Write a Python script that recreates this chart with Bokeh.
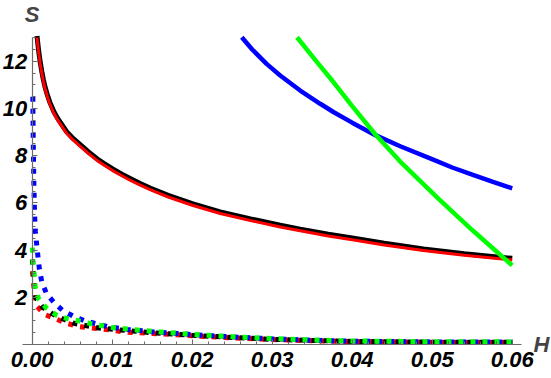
from bokeh.plotting import figure
from bokeh.models import LinearAxis, FixedTicker, Range1d, Label
from bokeh.embed import file_html
from bokeh.resources import INLINE

# ---- data ----
# solid curves
h_main = [0.0006, 0.0007, 0.0008, 0.0009, 0.001, 0.0012, 0.0014, 0.0016, 0.0019, 0.0022,
          0.0027, 0.0032, 0.0038, 0.0043, 0.005, 0.006, 0.007, 0.0081, 0.009, 0.01,
          0.0112, 0.0123, 0.0135, 0.0148, 0.017, 0.02, 0.0235, 0.0273, 0.031, 0.0335,
          0.037, 0.0398, 0.044, 0.0489, 0.054, 0.06]
s_red = [13.0, 12.7, 12.4, 12.15, 11.9, 11.5, 11.15, 10.85, 10.5, 10.2,
         9.8, 9.5, 9.2, 8.95, 8.7, 8.4, 8.1, 7.8, 7.6, 7.38,
         7.15, 6.95, 6.75, 6.55, 6.25, 5.9, 5.55, 5.25, 4.98, 4.82,
         4.6, 4.45, 4.22, 3.98, 3.78, 3.58]
s_black = [13.07, 12.77, 12.47, 12.22, 11.97, 11.57, 11.22, 10.92, 10.57, 10.27,
           9.87, 9.57, 9.27, 9.02, 8.77, 8.47, 8.17, 7.87, 7.67, 7.45,
           7.22, 7.02, 6.82, 6.62, 6.32, 5.97, 5.62, 5.32, 5.05, 4.89,
           4.67, 4.52, 4.29, 4.05, 3.85, 3.65]

h_blue = [0.0262, 0.0275, 0.0293, 0.031, 0.0335, 0.036, 0.0377, 0.040, 0.0429, 0.046,
          0.0502, 0.0525, 0.055, 0.0575, 0.06]
s_blue = [13.02, 12.5, 11.89, 11.4, 10.76, 10.2, 9.84, 9.4, 8.87, 8.4,
          7.82, 7.5, 7.2, 6.9, 6.62]

h_green = [0.0331, 0.0354, 0.0377, 0.040, 0.0429, 0.046, 0.0508, 0.055, 0.06]
s_green = [13.02, 12.05, 11.1, 10.1, 8.9, 7.75, 6.17, 4.85, 3.35]

# dotted curves
tail_h = [0.015, 0.02, 0.025, 0.03, 0.035, 0.04, 0.05, 0.06]

hd_blue = [0.00008, 0.00012, 0.0002, 0.0003, 0.0004, 0.0006, 0.0009, 0.0012, 0.0018,
           0.0027, 0.0038, 0.0052, 0.0067, 0.0094, 0.0119] + tail_h
sd_blue = [10.5, 9.0, 7.0, 5.5, 4.8, 4.1, 3.2, 2.65, 2.15,
           1.79, 1.44, 1.19, 0.99, 0.76, 0.64,
           0.54, 0.42, 0.32, 0.24, 0.18, 0.14, 0.11, 0.10]

hd_green = [0.00002, 0.0001, 0.0004, 0.0008, 0.00175, 0.0031, 0.0045, 0.006, 0.0075,
            0.0104, 0.0118] + tail_h
sd_green = [4.1, 3.56, 2.36, 1.94, 1.55, 1.23, 1.09, 0.99, 0.87,
            0.70, 0.66,
            0.56, 0.43, 0.33, 0.25, 0.19, 0.15, 0.12, 0.11]

hd_black = [0.00002, 0.0004, 0.0013, 0.0025, 0.0038, 0.0052, 0.0083, 0.0119] + tail_h
sd_black = [3.6, 2.0, 1.58, 1.30, 1.09, 0.90, 0.70, 0.59,
            0.50, 0.39, 0.30, 0.22, 0.17, 0.13, 0.10, 0.09]

hd_red = [0.00002, 0.0003, 0.0006, 0.0016, 0.0029, 0.0043, 0.0058, 0.0087, 0.0118] + tail_h
sd_red = [3.1, 2.15, 1.61, 1.27, 1.09, 0.90, 0.76, 0.66, 0.52,
          0.47, 0.37, 0.28, 0.21, 0.16, 0.12, 0.09, 0.08]

x_ticks = [0.0, 0.01, 0.02, 0.03, 0.04, 0.05, 0.06]
x_tick_labels = ["0.00", "0.01", "0.02", "0.03", "0.04", "0.05", "0.06"]
y_ticks = [2, 4, 6, 8, 10, 12]
y_tick_labels = ["2", "4", "6", "8", "10", "12"]

# ---- figure: frame covers the whole canvas, axes sit at the data origin ----
p = figure(width=551, height=378, output_backend="svg", toolbar_location=None,
           x_axis_location=None, y_axis_location=None,
           x_range=Range1d(-0.00396, 0.06491), y_range=Range1d(-1.4407, 14.576),
           min_border=0)
p.outline_line_color = None
p.xgrid.visible = False
p.ygrid.visible = False
p.background_fill_color = "white"
p.border_fill_color = "white"

AX = "#6b6b6b"
FONT = "Liberation Sans"

xaxis = LinearAxis(fixed_location=0, bounds=(-0.00125, 0.0611),
                   ticker=FixedTicker(ticks=x_ticks,
                                      minor_ticks=[i * 0.002 for i in range(31)]))
xaxis.major_label_overrides = {t: l for t, l in zip(x_ticks, x_tick_labels)}
yaxis = LinearAxis(fixed_location=0, bounds=(0, 13),
                   ticker=FixedTicker(ticks=y_ticks,
                                      minor_ticks=[i * 0.5 for i in range(1, 27)]))
yaxis.major_label_overrides = {t: l for t, l in zip(y_ticks, y_tick_labels)}

for ax in (xaxis, yaxis):
    ax.axis_line_color = AX
    ax.axis_line_width = 1.2
    ax.major_tick_line_color = AX
    ax.minor_tick_line_color = AX
    ax.major_tick_in = 5
    ax.major_tick_out = 0
    ax.minor_tick_in = 3
    ax.minor_tick_out = 0
    ax.major_label_text_font = FONT
    ax.major_label_text_font_style = "bold italic"
    ax.major_label_text_font_size = "22px"
    ax.major_label_text_color = "black"
xaxis.major_label_standoff = 8
yaxis.major_label_standoff = 5

p.add_layout(xaxis, "below")
p.add_layout(yaxis, "left")

# dotted curves
dash = "5 7"
p.line(hd_red, sd_red, line_color="#ff0000", line_width=5, line_dash=dash)
p.line(hd_black, sd_black, line_color="#000000", line_width=5, line_dash=dash)
p.line(hd_blue, sd_blue, line_color="#0000ff", line_width=5, line_dash=dash)
p.line(hd_green, sd_green, line_color="#00ff00", line_width=5, line_dash=dash)

# solid curves
p.line(h_main, s_black, line_color="#000000", line_width=5)
p.line(h_main, s_red, line_color="#ff0000", line_width=3)
p.line(h_blue, s_blue, line_color="#0000ff", line_width=4.5)
p.line(h_green, s_green, line_color="#00ff00", line_width=4.5)

# axis names
p.add_layout(Label(x=0, y=13.98, text="S", text_font=FONT, text_font_style="bold italic",
                   text_font_size="22px", text_align="center", text_baseline="middle"))
p.add_layout(Label(x=0.06366, y=0.02, text="H", text_font=FONT, text_font_style="bold italic",
                   text_font_size="22px", text_align="center", text_baseline="middle"))

open("out.html", "w").write(file_html(p, INLINE))
